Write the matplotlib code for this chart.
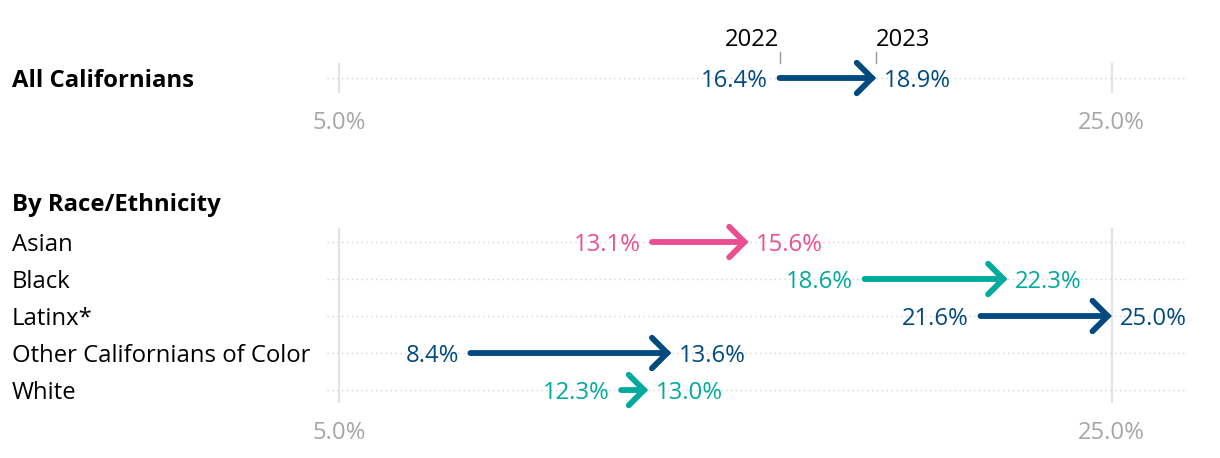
import matplotlib.pyplot as plt
import matplotlib.transforms as mtrans

plt.rcParams['font.family'] = ['Open Sans', 'DejaVu Sans']

# data
all_label = 'All Californians'
all_2022 = 16.4
all_2023 = 18.9

groups = ['Asian', 'Black', 'Latinx*', 'Other Californians of Color', 'White']
v2022 = [13.1, 18.6, 21.6, 8.4, 12.3]
v2023 = [15.6, 22.3, 25.0, 13.6, 13.0]

ticks = [5.0, 25.0]
tick_labels = ['5.0%', '25.0%']

NAVY = '#004a80'
PINK = '#ec4f91'
TEAL = '#00aa9e'
colors = [PINK, TEAL, NAVY, NAVY, TEAL]

FS = 17.2
XLIM = (4.69, 26.97)

fig = plt.figure(figsize=(12.2, 4.58), dpi=100)
ax_top = fig.add_axes([327/1220, (458-93)/458, 861/1220, 30/458])
ax_bot = fig.add_axes([327/1220, (458-403)/458, 861/1220, 175/458])


def style(ax):
    ax.set_xlim(*XLIM)
    for s in ax.spines.values():
        s.set_visible(False)
    ax.set_yticks([])
    ax.set_xticks(ticks)
    ax.set_xticklabels(tick_labels, fontsize=FS, color='#a6a6a6')
    ax.tick_params(axis='x', length=0, pad=13)
    for t in ticks:
        ax.axvline(t, color='#e3e3e3', lw=1.6, zorder=0)


def arrow(ax, y, a, b, c):
    ax.annotate('', xy=(b, y), xytext=(a, y),
                arrowprops=dict(arrowstyle='->,head_length=0.5,head_width=0.5',
                                color=c, lw=4.2, mutation_scale=22,
                                shrinkA=0, shrinkB=0,
                                capstyle='round', joinstyle='miter'))
    ax.text(a - 0.3, y, f'{a:.1f}%', color=c, fontsize=FS,
            ha='right', va='center_baseline')
    ax.text(b + 0.2, y, f'{b:.1f}%', color=c, fontsize=FS,
            ha='left', va='center_baseline')


# top panel
style(ax_top)
ax_top.set_ylim(1, -1)
ax_top.axhline(0, color='#d4d4d4', lw=1, ls=(0, (1, 2.5)), zorder=0)
arrow(ax_top, 0, all_2022, all_2023, NAVY)
# year markers
for v, yr, ha in [(all_2022, '2022', 'right'), (all_2023, '2023', 'left')]:
    ax_top.plot([v, v], [-1.0, -1.75], color='#999999', lw=1, clip_on=False)
    ax_top.text(v, -2.1, yr, fontsize=FS, color='black', ha=ha,
                va='baseline')
tr_top = mtrans.blended_transform_factory(fig.transFigure, ax_top.transData)
ax_top.text(12/1220, 0, all_label, transform=tr_top, fontsize=FS,
            fontweight='bold', ha='left', va='center_baseline')

# bottom panel
style(ax_bot)
ax_bot.set_ylim(4.35, -0.378)
for i in range(len(groups)):
    ax_bot.axhline(i, color='#d4d4d4', lw=1, ls=(0, (1, 2.5)), zorder=0)
    arrow(ax_bot, i, v2022[i], v2023[i], colors[i])
tr_bot = mtrans.blended_transform_factory(fig.transFigure, ax_bot.transData)
ax_bot.text(12/1220, -1.08, 'By Race/Ethnicity', transform=tr_bot,
            fontsize=FS, fontweight='bold', ha='left', va='center_baseline')
for i, g in enumerate(groups):
    ax_bot.text(12/1220, i, g, transform=tr_bot, fontsize=FS,
                ha='left', va='center_baseline')

fig.savefig('out.png', dpi=100)
